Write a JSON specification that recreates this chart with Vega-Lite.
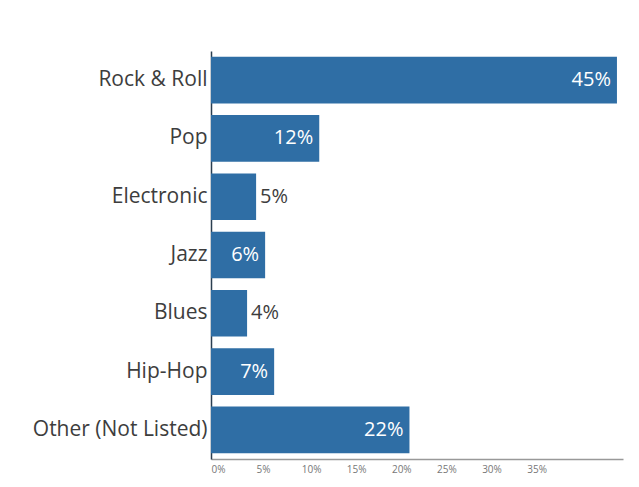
{
  "$schema": "https://vega.github.io/schema/vega-lite/v6.json",
  "width": 412,
  "height": 408,
  "autosize": {"type": "none"},
  "padding": {"left": 211, "top": 51, "right": 16, "bottom": 28},
  "background": "white",
  "config": {"view": {"stroke": null}, "font": "Open Sans"},
  "data": {
    "values": [
      {"genre": "Rock & Roll", "share": 0.45},
      {"genre": "Pop", "share": 0.12},
      {"genre": "Electronic", "share": 0.05},
      {"genre": "Jazz", "share": 0.06},
      {"genre": "Blues", "share": 0.04},
      {"genre": "Hip-Hop", "share": 0.07},
      {"genre": "Other (Not Listed)", "share": 0.22}
    ]
  },
  "encoding": {
    "y": {
      "field": "genre",
      "type": "nominal",
      "sort": null,
      "scale": {"paddingInner": 0.2, "paddingOuter": 0.1},
      "axis": {
        "title": null,
        "ticks": false,
        "labelFontSize": 21,
        "labelColor": "#3d3d3d",
        "labelPadding": 4,
        "domainColor": "#2b3e50",
        "domainWidth": 1.5
      }
    },
    "x": {
      "field": "share",
      "type": "quantitative",
      "scale": {"domain": [0, 0.4567], "nice": false},
      "axis": {
        "title": null,
        "values": [0, 0.05, 0.1, 0.15, 0.2, 0.25, 0.3, 0.35],
        "format": ".0%",
        "grid": false,
        "ticks": false,
        "labelAlign": "left",
        "labelFontSize": 10,
        "labelColor": "#777777",
        "labelPadding": 5,
        "domainColor": "#999999",
        "domainWidth": 1.5
      }
    }
  },
  "layer": [
    {"mark": {"type": "bar", "color": "#2f6ea5"}},
    {
      "transform": [{"filter": "datum.share >= 0.06"}],
      "mark": {"type": "text", "align": "right", "dx": -6, "fontSize": 20, "color": "white"},
      "encoding": {"text": {"field": "share", "type": "quantitative", "format": ".0%"}}
    },
    {
      "transform": [{"filter": "datum.share < 0.06"}],
      "mark": {"type": "text", "align": "left", "dx": 4, "fontSize": 20, "color": "#3d3d3d"},
      "encoding": {"text": {"field": "share", "type": "quantitative", "format": ".0%"}}
    }
  ]
}
